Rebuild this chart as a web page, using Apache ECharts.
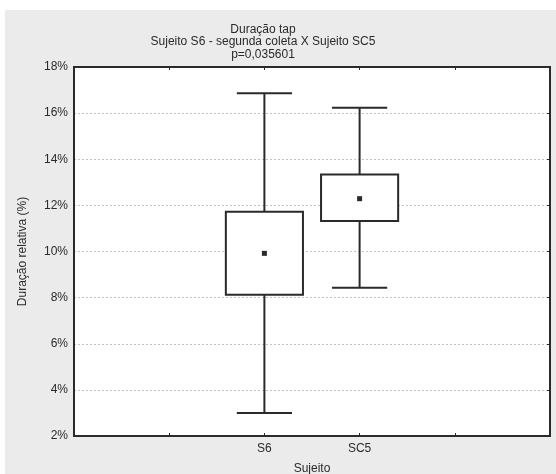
<!DOCTYPE html>
<html>
<head>
<meta charset="utf-8">
<script src="https://cdn.jsdelivr.net/npm/echarts@6/dist/echarts.min.js"></script>
<style>
  body { margin: 0; background: #fff; }
  #chart { width: 556px; height: 474px; }
</style>
</head>
<body>
<div id="chart"></div>
<script>
// slots on the x axis, the two subjects sit on slots 2 and 3
var xSlots = ['', '', 'S6', 'SC5', '', ''];
var subjects = ['S6', 'SC5'];
var means = [9.92, 12.29];
var boxLow = [8.13, 11.32];
var boxHigh = [11.72, 13.34];
var whiskerLow = [3.0, 8.43];
var whiskerHigh = [16.86, 16.23];
var yTicks = [2, 4, 6, 8, 10, 12, 14, 16, 18];

var font = 'Liberation Sans, Arial, sans-serif';
var ink = '#2a2a2a';

var seriesData = subjects.map(function (s, i) {
  return [xSlots.indexOf(s), whiskerLow[i], boxLow[i], means[i], boxHigh[i], whiskerHigh[i]];
});

function renderBox(params, api) {
  var x = api.value(0);
  var pLo = api.coord([x, api.value(1)]);
  var pBl = api.coord([x, api.value(2)]);
  var pM = api.coord([x, api.value(3)]);
  var pBh = api.coord([x, api.value(4)]);
  var pHi = api.coord([x, api.value(5)]);
  var band = api.size([1, 0])[0];
  var bw = band * 0.81;
  var cw = band * 0.58;
  var cx = pM[0];
  var ls = { stroke: ink, lineWidth: 2, fill: null };
  return {
    type: 'group',
    children: [
      { type: 'line', shape: { x1: cx, y1: pHi[1], x2: cx, y2: pBh[1] }, style: ls },
      { type: 'line', shape: { x1: cx, y1: pBl[1], x2: cx, y2: pLo[1] }, style: ls },
      { type: 'line', shape: { x1: cx - cw / 2, y1: pHi[1], x2: cx + cw / 2, y2: pHi[1] }, style: ls },
      { type: 'line', shape: { x1: cx - cw / 2, y1: pLo[1], x2: cx + cw / 2, y2: pLo[1] }, style: ls },
      { type: 'rect', shape: { x: cx - bw / 2, y: pBh[1], width: bw, height: pBl[1] - pBh[1] },
        style: { stroke: ink, lineWidth: 2, fill: '#fff' } },
      { type: 'rect', shape: { x: cx - 2.5, y: pM[1] - 2.5, width: 5, height: 5 },
        style: { fill: ink } }
    ]
  };
}

var option = {
  backgroundColor: '#fff',
  animation: false,
  graphic: [{
    type: 'rect', z: -10, silent: true,
    shape: { x: 5, y: 10, width: 551, height: 464 },
    style: { fill: '#ebebeb' }
  }],
  title: {
    text: 'Duração tap\nSujeito S6 - segunda coleta X Sujeito SC5\np=0,035601',
    left: 258,
    top: 18,
    textAlign: 'center',
    textStyle: { fontFamily: font, fontSize: 12, fontWeight: 'normal', color: ink, lineHeight: 12.5 }
  },
  grid: {
    left: 74, top: 67, right: 6, bottom: 38,
    outerBoundsMode: 'none',
    containLabel: false,
    show: true, backgroundColor: '#fff', borderColor: ink, borderWidth: 2
  },
  xAxis: [{
    type: 'category',
    data: xSlots,
    boundaryGap: false,
    name: 'Sujeito',
    nameLocation: 'middle',
    nameGap: 27,
    nameTextStyle: { fontFamily: font, fontSize: 12, color: ink },
    axisLine: { lineStyle: { color: ink, width: 2 } },
    axisTick: { inside: true, length: 3, interval: 0, lineStyle: { color: ink } },
    axisLabel: { interval: 0, margin: 7, fontFamily: font, fontSize: 12, color: ink },
    splitLine: { show: false }
  }, {
    type: 'category',
    data: xSlots,
    boundaryGap: false,
    position: 'top',
    axisLine: { lineStyle: { color: ink, width: 2 } },
    axisTick: { inside: true, length: 3, interval: 0, lineStyle: { color: ink } },
    axisLabel: { show: false },
    splitLine: { show: false }
  }],
  yAxis: [{
    type: 'value',
    min: 2, max: 18, interval: 2,
    name: 'Duração relativa (%)',
    nameLocation: 'middle',
    nameGap: 45,
    nameTextStyle: { fontFamily: font, fontSize: 12, color: ink },
    axisLine: { show: true, lineStyle: { color: ink, width: 2 } },
    axisTick: { show: false },
    axisLabel: {
      margin: 6, fontFamily: font, fontSize: 12, color: ink,
      formatter: function (v) { return yTicks.indexOf(v) >= 0 ? v + '%' : ''; }
    },
    splitLine: { show: true, lineStyle: { color: '#c4c4c4', type: [2, 2], width: 1 } }
  }, {
    type: 'value',
    min: 2, max: 18, interval: 2,
    position: 'right',
    axisLine: { show: true, lineStyle: { color: ink, width: 2 } },
    axisTick: { show: true, inside: true, length: 3, lineStyle: { color: ink } },
    axisLabel: { show: false },
    splitLine: { show: false }
  }],
  series: [{
    type: 'custom',
    name: 'Duração',
    xAxisIndex: 0,
    yAxisIndex: 0,
    renderItem: renderBox,
    encode: { x: 0, y: [1, 2, 3, 4, 5] },
    data: seriesData,
    z: 5
  }]
};

var chart = echarts.init(document.getElementById('chart'));
chart.setOption(option);
</script>
</body>
</html>
